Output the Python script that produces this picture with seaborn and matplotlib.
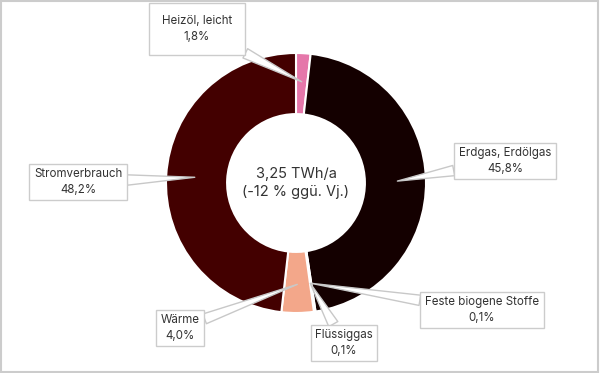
import numpy as np
import matplotlib
matplotlib.use("Agg")
import matplotlib.pyplot as plt
import seaborn as sns

# data (clockwise from top)
labels = ["Heizöl, leicht", "Erdgas, Erdölgas", "Feste biogene Stoffe",
          "Flüssiggas", "Wärme", "Stromverbrauch"]
shares = [1.8, 45.8, 0.1, 0.1, 4.0, 48.2]
share_texts = ["1,8%", "45,8%", "0,1%", "0,1%", "4,0%", "48,2%"]
center_text = "3,25 TWh/a\n(-12 % ggü. Vj.)"

colors = ["#e577aa", "#140000", "#6b1208", "#a84a35", "#f3a78a", "#430000"]
# label box centres in figure pixels (x from left, y from top) and box padding
box_pos = [(197, 29), (505, 161), (482, 310), (344, 343), (180, 328), (78, 182)]
box_pad = [1.1, 0.4, 0.4, 0.4, 0.4, 0.4]

sns.set_style("white")
plt.rcParams["font.family"] = ["Inter", "DejaVu Sans"]

W, H = 600, 373
cx, cy, R = 296, 183, 130  # donut centre and radius in pixels

fig = plt.figure(figsize=(W / 100, H / 100), dpi=100)
ax = fig.add_axes([0, 0, 1, 1])

wedges, _ = ax.pie(shares, colors=colors, startangle=90, counterclock=False,
                   radius=1, wedgeprops=dict(width=0.47, edgecolor="white", linewidth=1.5))
ax.set_aspect("auto")
ax.set_xlim(-cx / R, (W - cx) / R)
ax.set_ylim(-(H - cy) / R, cy / R)
ax.axis("off")

ax.text(0, 0, center_text, ha="center", va="center", fontsize=10.5,
        color="#333333", linespacing=1.4)

for w, lab, st, (bx, by), pad in zip(wedges, labels, share_texts, box_pos, box_pad):
    ang = np.deg2rad((w.theta1 + w.theta2) / 2)
    tip = (0.78 * np.cos(ang), 0.78 * np.sin(ang))
    txy = ((bx - cx) / R, (cy - by) / R)
    ax.annotate(f"{lab}\n{st}", xy=tip, xytext=txy, ha="center", va="center",
                fontsize=8.3, color="#333333", linespacing=1.4,
                bbox=dict(boxstyle=f"square,pad={pad}", fc="white", ec="#cccccc", lw=1),
                arrowprops=dict(arrowstyle="wedge,tail_width=0.9,shrink_factor=0.5",
                                fc="white", ec="#c8c8c8", lw=1,
                                shrinkA=0, shrinkB=0))

# light grey frame around the figure
fig.patches.append(plt.Rectangle((0.002, 0.003), 0.995, 0.994, transform=fig.transFigure,
                                 fill=False, ec="#cccccc", lw=1.5))

fig.savefig("out.png", dpi=100)
